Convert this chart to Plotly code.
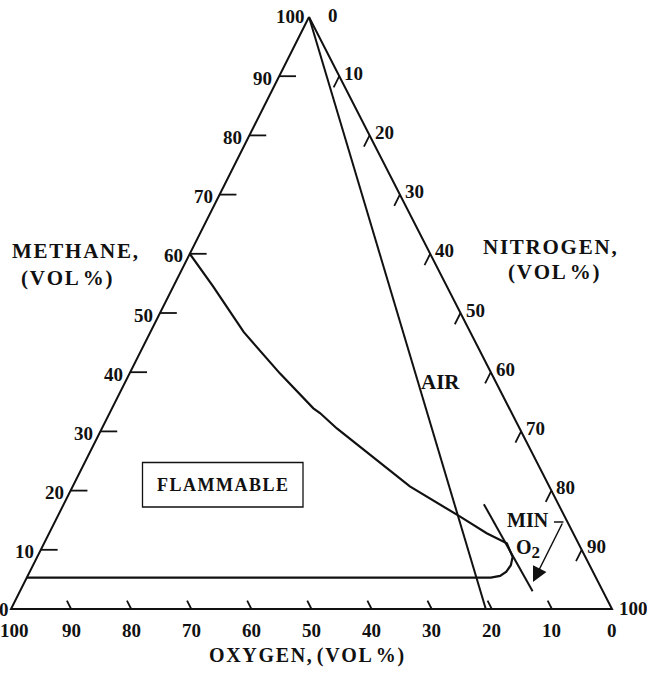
import numpy as np
import plotly.graph_objects as go

# ---------------- data (compositions in vol %) ----------------
METHANE_TICKS = [10, 20, 30, 40, 50, 60, 70, 80, 90]
OXYGEN_TICKS = [90, 80, 70, 60, 50, 40, 30, 20, 10]
NITROGEN_TICKS = [10, 20, 30, 40, 50, 60, 70, 80, 90]

# Flammability boundary: methane %, oxygen %  (nitrogen = remainder)
BOUNDARY_METHANE = [60.0, 54.5, 46.8, 39.8, 33.9, 33.1, 30.5, 27.4, 20.7, 15.6,
                    12.8, 11.1, 10.0, 8.8, 7.4, 6.3, 5.6, 5.3, 5.3]
BOUNDARY_OXYGEN = [40.0, 38.9, 37.7, 35.2, 32.6, 31.9, 30.4, 28.1, 23.2, 17.4,
                   14.4, 11.9, 12.0, 12.1, 13.1, 14.4, 15.8, 17.5, 94.7]

# Air line: pure methane to air (21 % O2, 79 % N2)
AIR_METHANE = [100, 0]
AIR_OXYGEN = [0, 21]

# Minimum oxygen concentration line
MIN_O2_METHANE = [17.7, 3.0]
MIN_O2_OXYGEN = [12.4, 11.7]

# ---------------- frame geometry / styles ----------------
W, H = 647, 680
PX_LEFT, PX_RIGHT, PX_APEX = 11, 612, 309
PY_BASE, PY_APEX = 609, 17
SX = PX_RIGHT - PX_LEFT
SY = PY_BASE - PY_APEX
APEX_FRAC = (PX_APEX - PX_LEFT) / SX

FONT = "Liberation Serif"
INK = "#111111"
NUM_SIZE = 19
TITLE_SIZE = 21
HAIR = "\u200A"


def tern(methane, oxygen):
    m = np.asarray(methane, float) / 100.0
    o = np.asarray(oxygen, float) / 100.0
    return 1 - o - (1 - APEX_FRAC) * m, m


def paper(px, py):
    return px / W, 1 - py / H


def spaced(s, sp=HAIR):
    return " ".join(sp.join(word) for word in s.split(" "))


fig = go.Figure()

# triangle frame
fx, fy = tern([100, 0, 0, 100], [0, 100, 0, 0])
fig.add_trace(go.Scatter(x=fx, y=fy, mode="lines",
                         line=dict(color=INK, width=2), hoverinfo="skip"))

# tick marks
tx, ty = [], []
for m in METHANE_TICKS:
    x, y = tern([m, m], [100 - m, 100 - m - 2.8])
    tx += list(x) + [None]; ty += list(y) + [None]
for o in OXYGEN_TICKS:
    x, y = tern([0, 1.4], [o, o])
    tx += list(x) + [None]; ty += list(y) + [None]
for n in NITROGEN_TICKS:
    x, y = tern([100 - n, 100 - n - 1.9], [0, 1.9])
    tx += list(x) + [None]; ty += list(y) + [None]
fig.add_trace(go.Scatter(x=tx, y=ty, mode="lines",
                         line=dict(color=INK, width=1.8), hoverinfo="skip"))

# air line
ax_, ay_ = tern(AIR_METHANE, AIR_OXYGEN)
fig.add_trace(go.Scatter(x=ax_, y=ay_, mode="lines",
                         line=dict(color=INK, width=2), hoverinfo="skip"))

# flammability boundary
bx, by = tern(BOUNDARY_METHANE, BOUNDARY_OXYGEN)
fig.add_trace(go.Scatter(x=bx, y=by, mode="lines",
                         line=dict(color=INK, width=2.2), hoverinfo="skip"))

# minimum O2 line
mx, my = tern(MIN_O2_METHANE, MIN_O2_OXYGEN)
fig.add_trace(go.Scatter(x=mx, y=my, mode="lines",
                         line=dict(color=INK, width=2), hoverinfo="skip"))

annotations = []
numfont = dict(family=FONT, size=NUM_SIZE, color=INK)


def num(text, m, o, xanchor, yanchor="middle", xshift=0, yshift=0):
    x, y = tern(m, o)
    annotations.append(dict(x=float(x), y=float(y), xref="x", yref="y", text=text,
                            showarrow=False, xanchor=xanchor, yanchor=yanchor,
                            xshift=xshift, yshift=yshift, font=numfont))


# methane labels (left side)
for m in METHANE_TICKS:
    num(f"<b>{m}</b>", m, 100 - m, "right", xshift=-5, yshift=-2)
num("<b>0</b>", 0, 100, "right", xshift=0, yshift=0)
num("<b>100</b>", 100, 0, "right", xshift=-2, yshift=1)
# nitrogen labels (right side)
for n in NITROGEN_TICKS:
    num(f"<b>{n}</b>", 100 - n, 0, "left", xshift=3, yshift=3)
num("<b>0</b>", 100, 0, "left", xshift=17, yshift=2)
num("<b>100</b>", 0, 0, "left", xshift=5, yshift=1)
# oxygen labels (bottom)
for o in [100] + OXYGEN_TICKS + [0]:
    num(f"<b>{o}</b>", 0, o, "center", yshift=-21,
        xshift=3 if o == 100 else 0)


def text(t, px, py, size=TITLE_SIZE):
    x, y = paper(px, py)
    annotations.append(dict(x=x, y=y, xref="paper", yref="paper", text=t,
                            showarrow=False, xanchor="center", yanchor="middle",
                            font=dict(family=FONT, size=size, color=INK)))


text(f"<b>{spaced('METHANE,')}</b>", 75, 251)
text(f"<b>{spaced('(VOL %)')}</b>", 67, 278)
text(f"<b>{spaced('NITROGEN,')}</b>", 550, 247)
text(f"<b>{spaced('(VOL %)')}</b>", 554, 272)
text(f"<b>{spaced('OXYGEN, (VOL %)')}</b>", 306, 655, size=20)
text("<b>AIR</b>", 440, 382)
text("<b>MIN</b>", 528, 520, size=20)
text('<b>O<sub><span style="font-size:17px">2</span></sub></b>', 528, 549, size=20)
text(f"<b>{spaced('FLAMMABLE')}</b>", 222, 485, size=18)

# arrow from MIN O2 label
tipx, tipy = paper(533, 582)
annotations.append(dict(x=tipx, y=tipy, xref="paper", yref="paper", text="",
                        showarrow=True, ax=30, ay=-60, arrowhead=2, arrowsize=2,
                        arrowwidth=1.5, arrowcolor=INK, standoff=0))

shapes = []
sx0, sy0 = paper(554, 522)
sx1, sy1 = paper(563.5, 522)
shapes.append(dict(type="line", xref="paper", yref="paper", x0=sx0, y0=sy0,
                   x1=sx1, y1=sy1, line=dict(color=INK, width=1.5)))
bx0, by0 = paper(142.5, 507)
bx1, by1 = paper(303, 462.5)
shapes.append(dict(type="rect", xref="paper", yref="paper", x0=bx0, y0=by0,
                   x1=bx1, y1=by1, line=dict(color=INK, width=1.3)))

fig.update_layout(
    width=W, height=H, margin=dict(l=0, r=0, t=0, b=0),
    paper_bgcolor="white", plot_bgcolor="white", showlegend=False,
    xaxis=dict(visible=False, range=[-PX_LEFT / SX, (W - PX_LEFT) / SX], fixedrange=True),
    yaxis=dict(visible=False, range=[(PY_BASE - H) / SY, PY_BASE / SY], fixedrange=True),
    annotations=annotations, shapes=shapes,
)

fig.write_html("out.html")
